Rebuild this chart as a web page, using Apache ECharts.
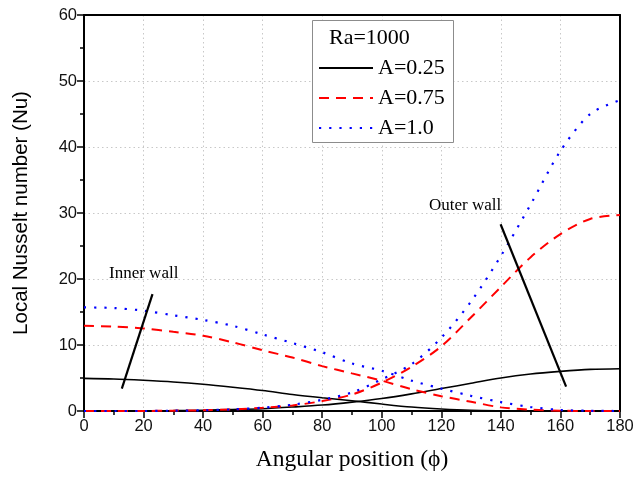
<!DOCTYPE html>
<html>
<head>
<meta charset="utf-8">
<script src="https://cdn.jsdelivr.net/npm/echarts@6/dist/echarts.min.js"></script>
<style>html,body{margin:0;padding:0;background:#fff}#c{width:634px;height:482px}</style>
</head>
<body>
<div id="c"></div>
<script>
const phi = [0,10,20,30,40,50,60,70,80,90,100,110,120,130,140,150,160,170,180];
const a025Inner = [4.95,4.85,4.65,4.4,4.05,3.6,3.1,2.5,2.0,1.55,1.05,0.6,0.3,0.1,0.03,0,0,0,0];
const a025Outer = [0,0,0.02,0.05,0.12,0.22,0.35,0.6,0.9,1.35,1.9,2.6,3.4,4.2,5.0,5.6,6.0,6.3,6.4];
const a075Inner = [12.9,12.8,12.5,12.0,11.4,10.4,9.2,8.1,6.8,5.7,4.6,3.3,2.25,1.4,0.55,0.2,0.05,0,0];
const a075Outer = [0,0,0,0.05,0.1,0.25,0.5,0.85,1.5,2.5,4.3,6.7,9.8,14.2,18.8,23.3,26.8,29.1,29.7];
const a10Inner  = [15.7,15.6,15.2,14.5,13.8,12.9,11.6,10.3,8.9,7.2,6.1,4.6,3.4,2.3,1.35,0.6,0.15,0.03,0];
const a10Outer  = [0,0,0,0.05,0.1,0.25,0.5,0.95,1.7,2.8,4.8,7.1,11.1,16.6,23.5,31.3,39.4,45.0,47.1];
const xTicks = {min:0, max:180, interval:20};
const yTicks = {min:0, max:60, interval:10};
const innerWallLine = [[12.7,3.4],[23.0,17.7]];
const outerWallLine = [[139.9,28.3],[161.9,3.7]];

const pairs = arr => phi.map((p,i)=>[p,arr[i]]);
const serif = 'Liberation Serif, Times New Roman, serif';
const sans = 'Liberation Sans, Arial, sans-serif';

function mkSeries(name, arr, color, type, width, extra) {
  return Object.assign({
    name: name, type: 'line', data: pairs(arr), smooth: 0.3, symbol: 'none',
    lineStyle: {color: color, type: type, width: width, cap: 'butt'},
    itemStyle: {color: color}, z: 3
  }, extra || {});
}

const chart = echarts.init(document.getElementById('c'), null, {renderer:'canvas'});
const axisCommon = {
  type: 'value',
  axisLine: {show: true, lineStyle: {color: '#000', width: 2}},
  axisTick: {show: true, inside: false, length: 7, lineStyle: {color: '#000', width: 1.5}},
  minorTick: {show: true, splitNumber: 2, length: 4, lineStyle: {color: '#000', width: 1.5}},
  splitLine: {show: true, lineStyle: {color: '#c8c8c8', type: [1.5,3], width: 1}},
  axisLabel: {color: '#111', fontSize: 16.5, fontFamily: sans, margin: 7}
};
const frameAxis = {
  type: 'value',
  axisLine: {show: true, onZero: false, lineStyle: {color: '#000', width: 2}},
  axisTick: {show: false}, axisLabel: {show: false}, splitLine: {show: false}
};
chart.setOption({
  animation: false,
  backgroundColor: '#fff',
  grid: {left: 84, right: 14, top: 15, bottom: 71, containLabel: false, outerBoundsMode: 'none'},
  xAxis: [Object.assign({}, axisCommon, {
    min: xTicks.min, max: xTicks.max, interval: xTicks.interval,
    name: 'Angular position (ϕ)', nameLocation: 'middle', nameGap: 37,
    nameTextStyle: {fontFamily: serif, fontSize: 23.5, color: '#000'}
  }), Object.assign({}, frameAxis, {position: 'top', min: xTicks.min, max: xTicks.max, interval: xTicks.interval})],
  yAxis: [Object.assign({}, axisCommon, {
    min: yTicks.min, max: yTicks.max, interval: yTicks.interval,
    name: 'Local Nusselt number (Nu)', nameLocation: 'middle', nameGap: 52,
    nameTextStyle: {fontFamily: sans, fontSize: 20.5, color: '#000'}
  }), Object.assign({}, frameAxis, {position: 'right', min: yTicks.min, max: yTicks.max, interval: yTicks.interval})],
  legend: {
    orient: 'vertical', left: 318, top: 57, itemWidth: 54, itemHeight: 10, itemGap: 8,
    padding: 0, z: 5,
    itemStyle: {opacity: 0},
    textStyle: {fontFamily: serif, fontSize: 22, color: '#000', lineHeight: 22},
    data: ['A=0.25','A=0.75','A=1.0']
  },
  graphic: [
    {type: 'rect', shape: {x: 312.5, y: 20.5, width: 141, height: 122}, style: {fill: '#fff', stroke: '#8c8c8c', lineWidth: 1}, z: 4},
    {type: 'text', x: 329, y: 38, z: 5, style: {text: 'Ra=1000', fontFamily: serif, fontSize: 22, fill: '#000', verticalAlign: 'middle', align: 'left'}},
    {type: 'text', x: 109, y: 274, z: 5, style: {text: 'Inner wall', fontFamily: serif, fontSize: 17, fill: '#000', verticalAlign: 'middle', align: 'left'}},
    {type: 'text', x: 429, y: 206, z: 5, style: {text: 'Outer wall', fontFamily: serif, fontSize: 17, fill: '#000', verticalAlign: 'middle', align: 'left'}}
  ],
  series: [
    mkSeries('A=0.25', a025Inner, '#000', 'solid', 1.6, {
      markLine: {silent: true, symbol: 'none', label: {show: false},
        lineStyle: {color: '#000', type: 'solid', width: 2.2},
        data: [
          [{coord: innerWallLine[0]}, {coord: innerWallLine[1]}],
          [{coord: outerWallLine[0]}, {coord: outerWallLine[1]}]
        ]}
    }),
    mkSeries('A=0.25', a025Outer, '#000', 'solid', 1.6),
    mkSeries('A=0.75', a075Inner, '#ff0000', [10,7], 2),
    mkSeries('A=0.75', a075Outer, '#ff0000', [10,7], 2),
    mkSeries('A=1.0', a10Inner, '#0000ff', [2.2,8], 2.2),
    mkSeries('A=1.0', a10Outer, '#0000ff', [2.2,8], 2.2)
  ]
});
</script>
</body>
</html>
